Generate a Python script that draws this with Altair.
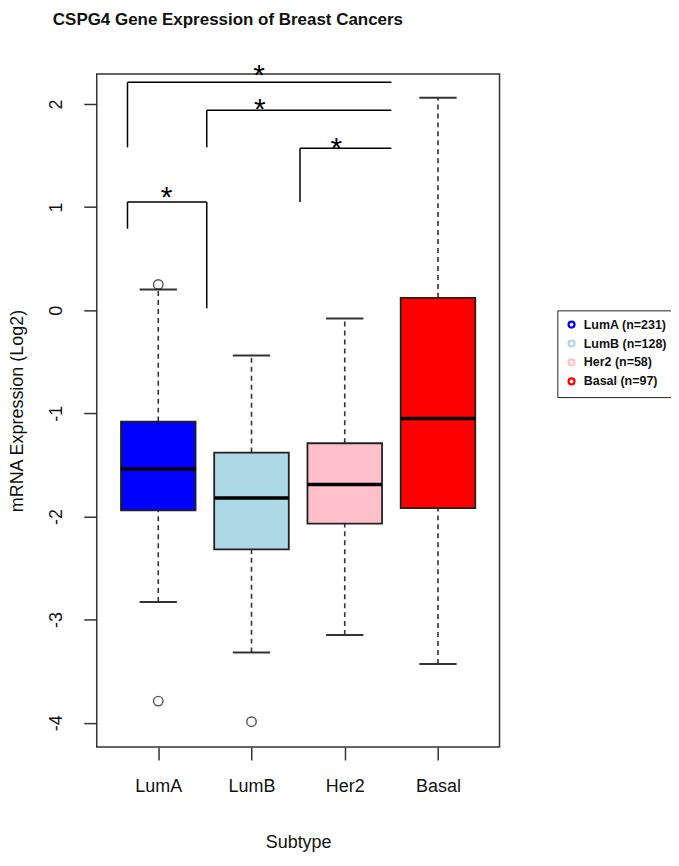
import altair as alt
import pandas as pd

# ---------------- data ----------------
subtypes = ["LumA", "LumB", "Her2", "Basal"]
counts = [231, 128, 58, 97]
box_colors = ["#0000FF", "#ADD8E6", "#FFC0CB", "#FF0000"]
lower_whisker = [-2.83, -3.32, -3.15, -3.43]
q1 = [-1.94, -2.32, -2.07, -1.92]
median = [-1.54, -1.82, -1.69, -1.05]
q3 = [-1.08, -1.38, -1.29, 0.12]
upper_whisker = [0.20, -0.44, -0.08, 2.06]

outlier_group = ["LumA", "LumA", "LumB"]
outlier_value = [0.25, -3.79, -3.99]

# significance brackets (x in category-position units, y in Log2 units)
bracket_x_left = [0.67, 1.52, 2.52, 0.67]
bracket_x_right = [3.50, 3.50, 3.50, 1.52]
bracket_top = [2.21, 1.94, 1.57, 1.05]
bracket_left_bottom = [1.58, 1.58, 1.05, 0.79]
bracket_right_bottom = [None, None, None, 0.02]
star_x = [2.08, 2.09, 2.91, 1.09]
star_y = [2.35, 2.02, 1.64, 1.17]

y_ticks = [-4, -3, -2, -1, 0, 1, 2]

# ---------------- tables ----------------
pos = list(range(1, len(subtypes) + 1))
legend_labels = [f"{s} (n={n})" for s, n in zip(subtypes, counts)]
box_half = 0.4
cap_half = 0.2

boxes = pd.DataFrame({
    "subtype": subtypes, "label": legend_labels, "pos": pos,
    "left": [p - box_half for p in pos], "right": [p + box_half for p in pos],
    "cl": [p - cap_half for p in pos], "cr": [p + cap_half for p in pos],
    "lo": lower_whisker, "q1": q1, "med": median, "q3": q3, "hi": upper_whisker,
})

out_df = pd.DataFrame({
    "pos": [pos[subtypes.index(g)] for g in outlier_group],
    "value": outlier_value,
})

segs = []
for xl, xr, top, lb, rb in zip(bracket_x_left, bracket_x_right, bracket_top,
                               bracket_left_bottom, bracket_right_bottom):
    segs.append({"x": xl, "x2": xr, "y": top, "y2": top})
    segs.append({"x": xl, "x2": xl, "y": top, "y2": lb})
    if rb is not None:
        segs.append({"x": xr, "x2": xr, "y": top, "y2": rb})
seg_df = pd.DataFrame(segs)
star_df = pd.DataFrame({"x": star_x, "y": star_y, "t": ["*"] * len(star_x)})

# ---------------- scales ----------------
x_dom = [0.34, 4.66]
y_dom = [-4.236, 2.29]
label_js = "[" + ",".join(f"'{s}'" for s in subtypes) + "]"

x_scale = alt.Scale(domain=x_dom, nice=False, zero=False)
y_scale = alt.Scale(domain=y_dom, nice=False, zero=False)

x_axis = alt.Axis(values=pos, labelExpr=f"{label_js}[datum.value-1]", title="Subtype",
                  grid=False, domain=False, tickSize=13, tickWidth=1.5, tickColor="#333",
                  labelFontSize=18, labelPadding=18, labelColor="#111",
                  titleFontSize=18, titleFontWeight="normal", titleColor="#111",
                  titleBaseline="alphabetic", titleY=101,
                  labelFont="Liberation Sans", titleFont="Liberation Sans")
y_axis = alt.Axis(values=y_ticks, labelExpr="'' + datum.value", title="mRNA Expression (Log2)",
                  grid=False, domain=False, tickSize=13, tickWidth=1.5, tickColor="#333",
                  labelAngle=-90, labelAlign="center", labelBaseline="bottom",
                  labelFontSize=18, labelPadding=18, labelColor="#111",
                  titleFontSize=18, titleFontWeight="normal", titleColor="#111",
                  titleX=-70, titleBaseline="bottom",
                  labelFont="Liberation Sans", titleFont="Liberation Sans")

base = alt.Chart(boxes)

whisk_up = base.mark_rule(strokeDash=[5, 4], strokeWidth=1.6, color="#333").encode(
    x=alt.X("pos:Q", scale=x_scale, axis=x_axis),
    y=alt.Y("q3:Q", scale=y_scale, axis=y_axis),
    y2="hi:Q")
whisk_dn = base.mark_rule(strokeDash=[5, 4], strokeWidth=1.6, color="#333").encode(
    x="pos:Q", y="lo:Q", y2="q1:Q")
cap_up = base.mark_rule(strokeWidth=2, color="#333").encode(x="cl:Q", x2="cr:Q", y="hi:Q")
cap_dn = base.mark_rule(strokeWidth=2, color="#333").encode(x="cl:Q", x2="cr:Q", y="lo:Q")

box = base.mark_rect(stroke="#222", strokeWidth=1.8).encode(
    x="left:Q", x2="right:Q", y="q1:Q", y2="q3:Q",
    fill=alt.Fill("subtype:N", scale=alt.Scale(domain=subtypes, range=box_colors), legend=None))
med = base.mark_rule(strokeWidth=3.5, color="#000").encode(x="left:Q", x2="right:Q", y="med:Q")

outl = alt.Chart(out_df).mark_point(shape="circle", filled=False, size=90,
                                    color="#111", strokeWidth=1.4).encode(
    x="pos:Q", y="value:Q")

brk = alt.Chart(seg_df).mark_rule(strokeWidth=1.5, color="#000").encode(
    x="x:Q", x2="x2:Q", y="y:Q", y2="y2:Q")
stars = alt.Chart(star_df).mark_text(fontSize=30, font="Liberation Sans", color="#000",
                                     baseline="alphabetic", dy=17).encode(
    x="x:Q", y="y:Q", text="t:N")

legend_layer = base.mark_point(shape="circle", filled=False, opacity=0).encode(
    x="pos:Q", y="med:Q",
    stroke=alt.Stroke("label:N",
                      scale=alt.Scale(domain=legend_labels, range=box_colors),
                      legend=alt.Legend(title=None, orient="none", legendX=462, legendY=237,
                                        symbolType="circle", symbolSize=36, symbolStrokeWidth=2.2,
                                        symbolOpacity=1, symbolFillColor="white",
                                        labelFontSize=12.5, labelFont="Liberation Sans",
                                        labelFontWeight="bold", labelColor="#111",
                                        labelOffset=6, rowPadding=3, padding=8,
                                        strokeColor="#222", fillColor="white", cornerRadius=0)))

chart = alt.layer(whisk_up, whisk_dn, cap_up, cap_dn, box, med, outl, brk, stars, legend_layer).resolve_scale(
    fill="independent", stroke="independent"
).properties(
    width=404, height=675,
    autosize=alt.AutoSizeParams(type="none"),
    padding={"left": 89, "top": 65, "right": 172, "bottom": 106},
    title=alt.TitleParams("CSPG4 Gene Expression of Breast Cancers", anchor="start", frame="group",
                          dx=-44, dy=-19, fontSize=17, fontWeight="bold",
                          font="Liberation Sans", color="#111",
                          baseline="alphabetic", offset=0),
).configure(
    background="white",
    view=alt.ViewConfig(stroke="#333", strokeWidth=1.5),
)

chart.save("out.html", embed_options={"renderer": "svg", "actions": False})
